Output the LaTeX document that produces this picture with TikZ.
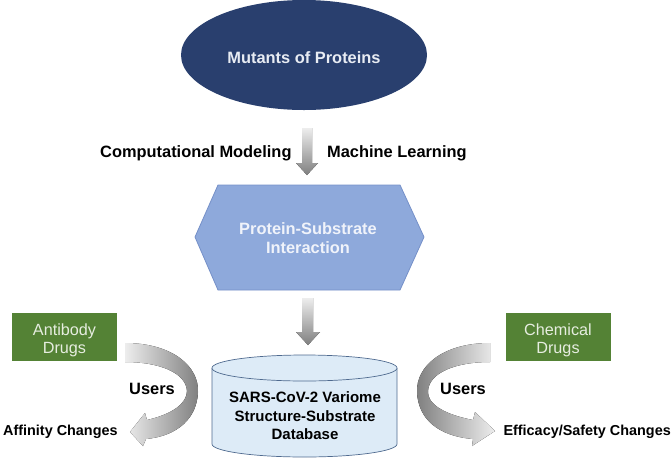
\documentclass[tikz,border=0pt]{standalone}
\usepackage{fontspec}
\setmainfont{Liberation Sans}
\usetikzlibrary{shapes.geometric}
\definecolor{navy}{HTML}{293F6E}
\definecolor{navytext}{HTML}{E8ECF3}
\definecolor{hexfill}{HTML}{8EA9DB}
\definecolor{hexline}{HTML}{7590C8}
\definecolor{hextext}{HTML}{F0F3FA}
\definecolor{drgreen}{HTML}{548235}
\definecolor{greentext}{HTML}{E6EDE0}
\definecolor{cylfill}{HTML}{DDEBF7}
\definecolor{cylline}{HTML}{4F6A8F}
\definecolor{arrlight}{HTML}{EDEDED}
\definecolor{arrdark}{HTML}{7F7F7F}
\tikzset{
  bigb/.style={font=\bfseries\fontsize{16.4}{19}\selectfont, inner sep=0pt},
  smallb/.style={font=\bfseries\fontsize{14.4}{17}\selectfont, inner sep=0pt},
  dbtext/.style={font=\bfseries\fontsize{15}{18}\selectfont, inner sep=0pt},
  drugbox/.style={fill=drgreen, draw=none, minimum width=105pt, minimum height=48pt, inner sep=0pt},
  drugtext/.style={font=\fontsize{16.2}{19}\selectfont, text=greentext, inner sep=0pt},
  downarrow/.style={top color=arrlight, bottom color=arrdark, draw=none},
}
\begin{document}
\begin{tikzpicture}[x=1pt,y=-1pt]
\useasboundingbox (0,0) rectangle (672,464);
% top ellipse
\node[ellipse, fill=navy, minimum width=246pt, minimum height=110pt, inner sep=0pt] (mut) at (304,55) {};
\node[bigb, text=navytext, anchor=base] (mutlab) at (304,63) {Mutants of Proteins};
% labels of first arrow
\node[bigb, anchor=base west] (cm) at (100,157) {Computational Modeling};
\node[bigb, anchor=base west] (ml) at (327,157) {Machine Learning};
% first down arrow
\fill[downarrow] (302,128) -- (312,128) -- (312,163) -- (318,163) -- (307,175) -- (296,163) -- (302,163) -- cycle;
% hexagon
\filldraw[fill=hexfill, draw=hexline, line width=0.8pt] (218,185) -- (400,185) -- (424,237) -- (400,290) -- (218,290) -- (195,237) -- cycle;
\node[bigb, text=hextext, anchor=base] (psi1) at (308,234) {Protein-Substrate};
\node[bigb, text=hextext, anchor=base] (psi2) at (308,253) {Interaction};
% second down arrow
\fill[downarrow] (302,298) -- (313,298) -- (313,332) -- (320,332) -- (308,345) -- (296,332) -- (302,332) -- cycle;
% cylinder
\fill[cylfill] (212,368) -- (212,444) arc[start angle=180, end angle=360, x radius=92.5pt, y radius=13pt] -- (397,368) -- cycle;
\draw[cylline, line width=0.7pt] (212,368) -- (212,444) arc[start angle=180, end angle=360, x radius=92.5pt, y radius=13pt] -- (397,368);
\filldraw[fill=cylfill, draw=cylline, line width=0.7pt] (304.5,368) ellipse[x radius=92.5pt, y radius=13pt];
\node[dbtext, anchor=base] (db1) at (305,402) {SARS-CoV-2 Variome};
\node[dbtext, anchor=base] (db2) at (305,421) {Structure-Substrate};
\node[dbtext, anchor=base] (db3) at (305,439) {Database};
% drug boxes
\node[drugbox] (ab) at (64.5,337) {};
\node[drugtext, anchor=base] (ab1) at (64.5,335) {Antibody};
\node[drugtext, anchor=base] (ab2) at (64.5,353) {Drugs};
\node[drugbox] (cd) at (558,337) {};
\node[drugtext, anchor=base] (cd1) at (558,335) {Chemical};
\node[drugtext, anchor=base] (cd2) at (558,353) {Drugs};
% curved arrows
\fill[left color=arrlight, right color=arrdark]
  (125,343) .. controls (172,343) and (199,366) .. (198,392)
  .. controls (197,418) and (178,436) .. (146,439)
  -- (143,446) -- (130,432) -- (145,413) -- (147,420)
  .. controls (173,414) and (187,403) .. (187,391)
  .. controls (186,373) and (160,362) .. (125,362) -- cycle;
\fill[left color=arrdark, right color=arrlight]
  (490,343) .. controls (443,343) and (416,366) .. (417,392)
  .. controls (418,418) and (437,436) .. (473,439)
  -- (472,446) -- (495,431) -- (475,412) -- (473,420)
  .. controls (442,414) and (427,403) .. (428,391)
  .. controls (429,373) and (455,362) .. (490,362) -- cycle;
% users labels
\node[bigb, anchor=base west] (u1) at (129,394) {Users};
\node[bigb, anchor=base west] (u2) at (440,394) {Users};
\node[smallb, anchor=base west] (aff) at (3,435) {Affinity Changes};
\node[smallb, anchor=base east] (eff) at (671,435) {Efficacy/Safety Changes};
\end{tikzpicture}
\end{document}
